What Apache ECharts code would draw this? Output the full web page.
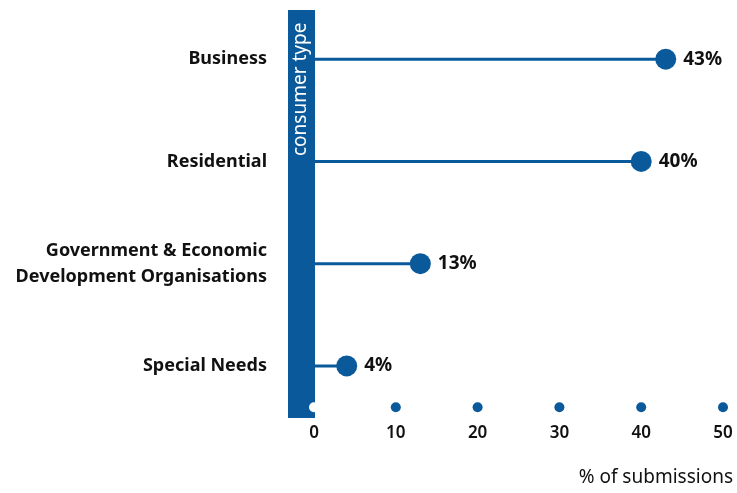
<!DOCTYPE html>
<html>
<head>
<meta charset="utf-8">
<script src="https://cdn.jsdelivr.net/npm/echarts@6/dist/echarts.min.js"></script>
<style>
  html, body { margin: 0; padding: 0; background: #fff; }
  #chart { width: 737px; height: 493px; }
</style>
</head>
<body>
<div id="chart"></div>
<script>
// Share of submissions by consumer type
const categories = ['Business', 'Residential', 'Government & Economic\nDevelopment Organisations', 'Special Needs'];
const shares = [43, 40, 13, 4];
const tickValues = [0, 10, 20, 30, 40, 50];

const BLUE = '#0a5a9b';
const INK = '#111111';
const FONT = '"Noto Sans", "Open Sans", sans-serif';

const chart = echarts.init(document.getElementById('chart'));

chart.setOption({
  animation: false,
  textStyle: { fontFamily: FONT },
  grid: { left: 314, right: 14, top: 8, bottom: 76, containLabel: false },
  xAxis: {
    type: 'value',
    min: 0,
    max: 50,
    interval: 10,
    axisLine: { show: false },
    axisTick: { show: false },
    splitLine: { show: false },
    axisLabel: { color: INK, fontSize: 17, fontWeight: 600, margin: 8, fontFamily: FONT }
  },
  yAxis: [
    {
      type: 'category',
      data: categories,
      inverse: true,
      axisLine: { show: false },
      axisTick: { show: false },
      axisLabel: {
        color: INK, fontSize: 18, fontWeight: 'bold', margin: 47,
        align: 'right', lineHeight: 26, fontFamily: FONT
      }
    },
    { type: 'value', min: 0, max: 1, show: false }
  ],
  series: [
    {
      // stems
      type: 'bar',
      yAxisIndex: 0,
      data: shares,
      barWidth: 3,
      itemStyle: { color: BLUE },
      silent: true
    },
    {
      // heads with value labels
      type: 'scatter',
      yAxisIndex: 0,
      data: shares.map((v, i) => [v, categories[i]]),
      symbolSize: 21,
      itemStyle: { color: BLUE, opacity: 1 },
      label: {
        show: true,
        position: 'right',
        distance: 7,
        formatter: p => p.value[0] + '%',
        color: INK,
        fontSize: 19,
        fontWeight: 'bold',
        fontFamily: FONT
      },
      z: 5
    },
    {
      // dotted tick marks along the value axis
      type: 'scatter',
      yAxisIndex: 1,
      data: tickValues.map(v => ({
        value: [v, 0.024],
        itemStyle: { color: v === 0 ? '#ffffff' : BLUE, opacity: 1 }
      })),
      symbolSize: 10,
      silent: true,
      z: 5
    }
  ],
  graphic: [
    {
      // vertical band carrying the category-axis title
      type: 'rect',
      shape: { x: 288, y: 10, width: 27, height: 408 },
      style: { fill: BLUE },
      z: 0,
      silent: true
    },
    {
      type: 'text',
      x: 291,
      y: 156,
      rotation: Math.PI / 2,
      style: {
        text: 'consumer type',
        fill: '#ffffff',
        fontSize: 19,
        fontFamily: FONT,
        verticalAlign: 'top'
      },
      z: 1
    },
    {
      type: 'text',
      right: 4,
      top: 468,
      style: {
        text: '% of submissions',
        fill: INK,
        fontSize: 19,
        fontFamily: FONT
      }
    }
  ]
});
</script>
</body>
</html>
